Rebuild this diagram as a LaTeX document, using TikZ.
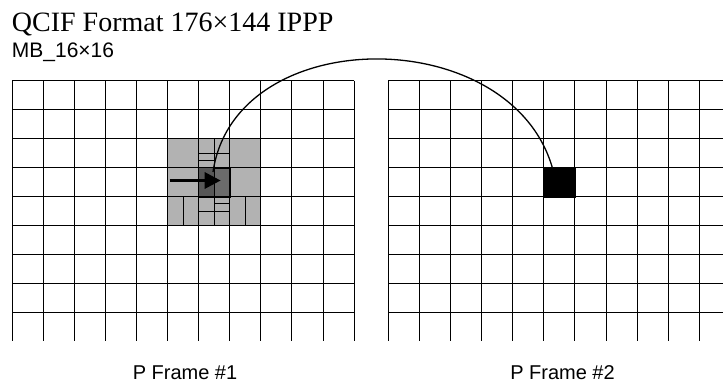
\documentclass[tikz,border=0pt]{standalone}
\usepackage{fontspec}
\setmainfont{Liberation Serif}
\newfontfamily\arialfont{Liberation Sans}
\usetikzlibrary{arrows.meta}

\begin{document}
\begin{tikzpicture}[x=1pt, y=-1pt,
    gridline/.style={line width=0.9pt},
    split/.style={line width=0.8pt},
    block/.style={draw, line width=0.9pt, inner sep=0pt, minimum width=31.1pt, minimum height=28.95pt, anchor=north west},
    mvarrow/.style={line width=3pt, -{Triangle[length=16pt, width=16pt]}},
    link/.style={line width=1.3pt},
    lbl/.style={font=\arialfont\fontsize{20}{22}\selectfont, anchor=base, inner sep=0pt}
]
\useasboundingbox (0,0) rectangle (723,386);

\node[font=\fontsize{28}{30}\selectfont, anchor=base west, inner sep=0pt] (title) at (11.7,31.7) {QCIF Format 176×144 IPPP};
\node[font=\arialfont\fontsize{21}{23}\selectfont, anchor=base west, inner sep=0pt] (mb) at (11.7,57) {MB\_16×16};

\node[fill=black!30, inner sep=0pt, minimum width=93.3pt, minimum height=86.85pt, anchor=north west] (search) at (167.5,138.6) {};
\node[block, fill=black!58] (cur) at (198.6,167.55) {};
\fill[black!66] (cur.north west) rectangle ([xshift=-15.55pt]cur.south east);

\foreach \i in {0,...,11}
    \draw[gridline] ({12+31.1*\i},80.7) -- ({12+31.1*\i},341);
\foreach \j in {0,...,8}
    \draw[gridline] (12,{80.7+28.95*\j}) -- (354.1,{80.7+28.95*\j});
\foreach \i in {0,...,10}
    \draw[gridline] ({388.3+31.1*\i},80.7) -- ({388.3+31.1*\i},341);
\foreach \j in {0,...,8}
    \draw[gridline] (388.3,{80.7+28.95*\j}) -- (723,{80.7+28.95*\j});

\draw[split] (214.15,138.6) -- (214.15,225.45);
\draw[split] (198.6,153.1) -- (229.7,153.1);
\draw[split] (198.6,160) -- (214.15,160);
\draw[split] (198.6,211) -- (229.7,211);
\draw[split] (214.15,203.5) -- (229.7,203.5);
\draw[split] (183,196.5) -- (183,225.45);
\draw[split] (245.2,196.5) -- (245.2,225.45);

\node[block, fill=black] (ref) at (543.8,167.55) {};

\coordinate (mvfrom) at (169.5,180.5);
\coordinate (mvtip) at (220.7,180.5);
\draw[mvarrow] (mvfrom) -- (mvtip);

\coordinate (linkstart) at (213,172);
\draw[link] (linkstart) .. controls (235,22) and (510,22) .. ([xshift=-7.5pt]ref.north);

\node[lbl] (f1lbl) at (185,379) {P Frame \#1};
\node[lbl] (f2lbl) at (562.5,379) {P Frame \#2};
\end{tikzpicture}
\end{document}
